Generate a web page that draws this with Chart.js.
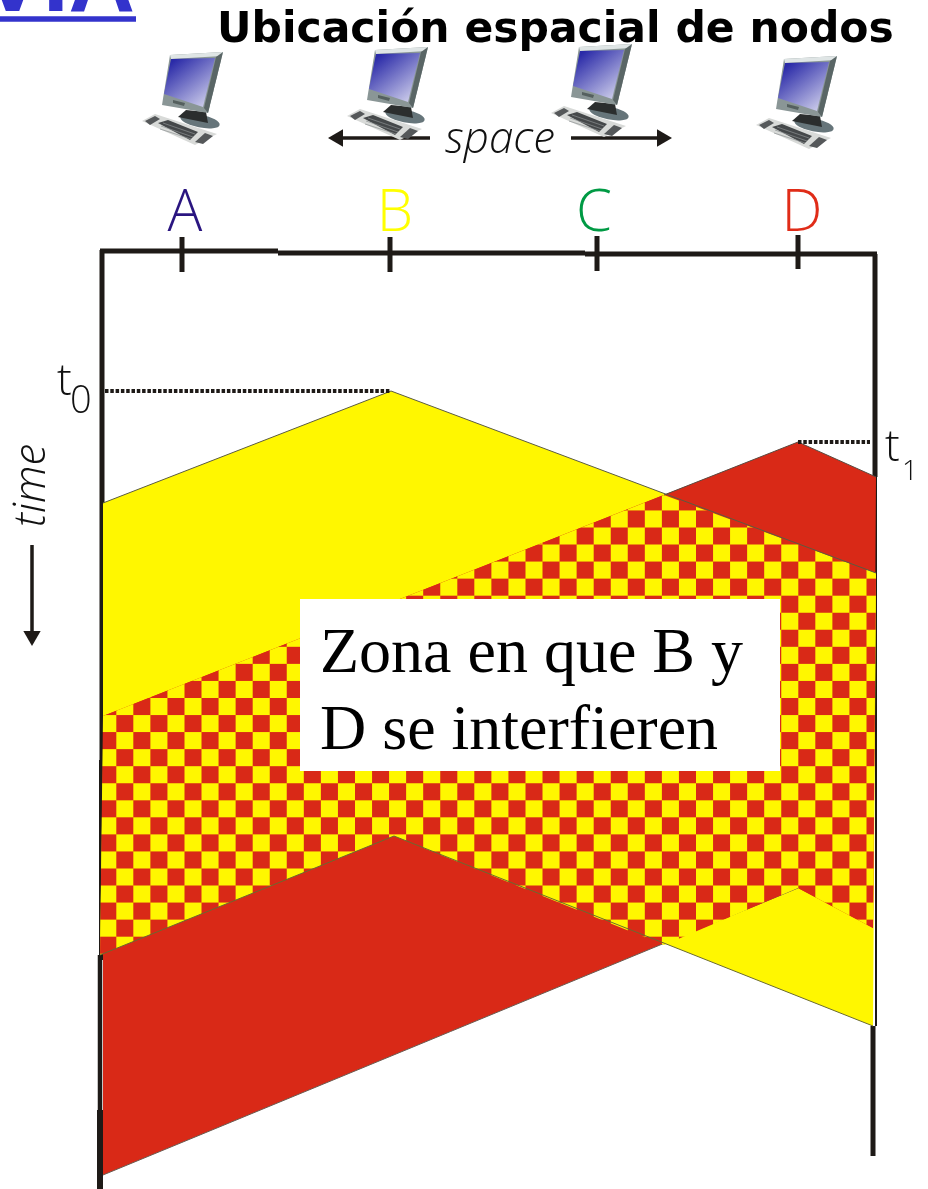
<!DOCTYPE html>
<html>
<head>
<meta charset="utf-8">
<title>Ubicación espacial de nodos</title>
<script src="https://cdn.jsdelivr.net/npm/chart.js@4/dist/chart.umd.min.js"></script>
<style>
  html, body { margin: 0; padding: 0; background: #fff; overflow: hidden; }
  canvas { display: block; }
</style>
</head>
<body>
<canvas id="diagram" width="928" height="1189"></canvas>
<script>
// Space / time diagram: x is space, y is time (downwards)
const nodeLabels = ['A', 'B', 'C', 'D'];
const nodeSpace = [182, 390, 597, 798];
const tickStart = [237, 237, 236, 235];
const tickEnd = [272, 272, 271, 269];
const computerSpace = [182, 387, 591, 796];
const computerTime = [100, 95, 92, 104];

// Signal sent by B
const yellowSpace = [103, 391, 876, 873, 394, 100, 103, 103];
const yellowTime = [503, 391, 573, 1026, 836, 955, 760, 503];
// Signal sent by D
const redSpace = [103, 798, 876, 873, 798, 103, 103];
const redTime = [716, 442, 477, 928, 888, 1175, 716];
// Where both signals overlap
const overlapSpace = [103, 664, 876, 873, 798, 664, 394, 100, 103];
const overlapTime = [716, 495, 573, 928, 888, 945, 836, 955, 716];

const t0Space = [105, 391];
const t0Time = [391, 391];
const t1Space = [798, 870];
const t1Time = [442, 442];

const INK = '#1e1a17';
const YELLOW = '#fff700';
const RED = '#d92917';

function points(xs, ys) {
    return xs.map((x, i) => ({ x: x, y: ys[i] }));
}

function stroke(xs, ys, width, color, extra) {
    return Object.assign({
        data: points(xs, ys),
        showLine: true,
        borderColor: color || INK,
        borderWidth: width,
        pointRadius: 0,
        fill: false,
        tension: 0
    }, extra || {});
}

function area(xs, ys, fillStyle) {
    return {
        data: points(xs, ys),
        showLine: true,
        borderWidth: 0,
        borderColor: 'transparent',
        backgroundColor: fillStyle,
        pointRadius: 0,
        fill: 'shape',
        tension: 0
    };
}

// Arrow: a line with a triangle on its last point
function arrow(xs, ys, rotation) {
    return stroke(xs, ys, 3.5, INK, {
        pointStyle: 'triangle',
        pointRadius: [0, 10],
        pointRotation: rotation,
        pointBackgroundColor: INK,
        pointBorderWidth: 0
    });
}

function checkerPattern() {
    const cell = 17;
    const tile = document.createElement('canvas');
    tile.width = cell * 2;
    tile.height = cell * 2;
    const c = tile.getContext('2d');
    c.fillStyle = YELLOW;
    c.fillRect(0, 0, cell * 2, cell * 2);
    c.fillStyle = RED;
    c.fillRect(0, 0, cell, cell);
    c.fillRect(cell, cell, cell, cell);
    const ctx = document.getElementById('diagram').getContext('2d');
    const pattern = ctx.createPattern(tile, 'repeat');
    // line the squares up with the reference grid
    const scale = 17.05 / 17;
    pattern.setTransform(new DOMMatrix([scale, 0, 0, scale, 31, 15.95]));
    return pattern;
}

function quad(c, pts, fill) {
    c.beginPath();
    pts.forEach((p, i) => i ? c.lineTo(p[0], p[1]) : c.moveTo(p[0], p[1]));
    c.closePath();
    c.fillStyle = fill;
    c.fill();
}

// Small desktop computer used as point style
function computerIcon() {
    const icon = document.createElement('canvas');
    icon.width = 84;
    icon.height = 100;
    const c = icon.getContext('2d');
    // stand
    c.fillStyle = '#66757a';
    c.beginPath();
    c.ellipse(60, 71, 20, 6.5, 0.2, 0, Math.PI * 2);
    c.fill();
    quad(c, [[46, 60], [66, 62], [68, 73], [38, 67]], '#2b2e2e');
    // monitor
    quad(c, [[30, 5], [83, 2], [68, 63], [22, 55]], '#8a9696');
    quad(c, [[30, 5], [83, 2], [82, 6], [31, 9]], '#dfe5e5');
    quad(c, [[76, 7], [83, 2], [68, 63], [64, 58]], '#5a6666');
    const screen = c.createLinearGradient(32, 12, 68, 58);
    screen.addColorStop(0, '#2a2aa8');
    screen.addColorStop(1, '#d5d5ee');
    quad(c, [[31, 9], [75, 8], [63, 57], [24, 44]], screen);
    quad(c, [[33, 50], [45, 53], [44, 56], [33, 53]], '#55605f');
    // keyboard
    quad(c, [[2, 71], [15, 64], [77, 84], [55, 95]], '#d8dad8');
    quad(c, [[18, 73], [28, 70], [58, 82], [50, 90]], '#45484a');
    quad(c, [[5, 71], [15, 66], [20, 69], [10, 75]], '#55585a');
    quad(c, [[55, 92], [65, 83], [73, 86], [63, 94]], '#55585a');
    c.strokeStyle = '#8d9092';
    c.lineWidth = 0.7;
    [[23, 73, 55, 84], [21, 76, 53, 87], [20, 79, 51, 89]].forEach(r => {
        c.beginPath();
        c.moveTo(r[0], r[1]);
        c.lineTo(r[2], r[3]);
        c.stroke();
    });
    return icon;
}

const computerImage = computerIcon();

// Text labels, placed through the chart scales
const textPlugin = {
    id: 'diagramText',
    afterDatasetsDraw(chart) {
        const ctx = chart.ctx;
        const sx = chart.scales.x;
        const sy = chart.scales.y;

        function text(str, x, y, font, color, align) {
            ctx.font = font;
            ctx.fillStyle = color || '#111';
            ctx.textAlign = align || 'left';
            ctx.textBaseline = 'alphabetic';
            ctx.fillText(str, sx.getPixelForValue(x), sy.getPixelForValue(y));
        }

        ctx.save();
        text('VIA', 135, 11, 'bold 92px "Liberation Sans"', '#3333cc', 'right');
        text('Ubicación espacial de nodos', 217, 42, 'bold 42.5px "DejaVu Sans"', '#000');
        text('space', 445, 153, 'italic 300 44px "Open Sans"', '#111');

        const nodeColors = ['#2a1580', '#ffff00', '#009a44', '#e02c18'];
        const nodeOffset = [3, 5, -3, 4];
        nodeLabels.forEach((label, i) => {
            text(label, nodeSpace[i] + nodeOffset[i], 231, '300 58px "Open Sans"', nodeColors[i], 'center');
        });

        text('t', 57, 395, '300 44px "Open Sans"', '#111');
        text('0', 70, 413, '300 38px "Open Sans"', '#111');
        text('t', 885, 461, '300 44px "Open Sans"', '#111');
        text('1', 902, 480, '300 28px "Open Sans"', '#111');

        text('Zona en que B y', 320, 672, '64px "Liberation Serif"', '#000');
        text('D se interfieren', 320, 749, '64px "Liberation Serif"', '#000');

        ctx.translate(sx.getPixelForValue(45), sy.getPixelForValue(527));
        ctx.rotate(-Math.PI / 2);
        ctx.font = 'italic 300 44px "Open Sans"';
        ctx.fillStyle = '#111';
        ctx.textAlign = 'left';
        ctx.fillText('time', 0, 0);
        ctx.restore();
    }
};

// Listed from the bottom layer to the top one
const layers = [
    // title underline
    stroke([0, 136], [19, 19], 5.5, '#3333cc'),
    // frame
    stroke([102, 102], [250, 760], 5),
    stroke([101, 101], [760, 960], 4),
    stroke([100, 100], [955, 1110], 4.5),
    stroke([100, 100], [1110, 1189], 6),
    stroke([100, 278], [251, 251], 5),
    stroke([278, 585], [253, 253], 5),
    stroke([585, 877], [254, 254], 5),
    stroke([875, 875], [254, 477], 5),
    stroke([876, 876], [477, 1026], 2),
    stroke([873, 873], [1026, 1156], 5),
    // signals
    area(yellowSpace, yellowTime, YELLOW),
    area(redSpace, redTime, RED),
    stroke(redSpace.slice(1, 3), redTime.slice(1, 3), 1, '#5b4a40'),
    stroke(redSpace.slice(4, 6), redTime.slice(4, 6), 1, '#6a5a50'),
    area(overlapSpace, overlapTime, checkerPattern()),
    stroke([664, 798], [495, 442], 1, '#5b4a40'),
    stroke(yellowSpace.slice(0, 3), yellowTime.slice(0, 3), 1, '#5b5b40'),
    stroke(yellowSpace.slice(3, 6), yellowTime.slice(3, 6), 1, '#6a6a30'),
    // t0 and t1 markers
    stroke(t0Space, t0Time, 4, INK, { borderDash: [3.5, 1.8] }),
    stroke(t1Space, t1Time, 4, INK, { borderDash: [3.5, 1.8] }),
    // ticks
    ...nodeSpace.map((x, i) => stroke([x, x], [tickStart[i], tickEnd[i]], 5)),
    // white note box
    area([300, 780, 780, 300, 300], [599, 599, 771, 771, 599], '#ffffff'),
    // space and time arrows
    arrow([430, 338], [138, 138], -90),
    arrow([571, 662], [138, 138], 90),
    arrow([32, 32], [545, 636], 180),
    // computers
    {
        data: points(computerSpace, computerTime),
        showLine: false,
        pointStyle: computerImage,
        pointRadius: 20
    }
];

new Chart(document.getElementById('diagram'), {
    type: 'scatter',
    data: { datasets: layers.reverse() },
    options: {
        responsive: false,
        animation: false,
        devicePixelRatio: 1,
        layout: { padding: 0, autoPadding: false },
        plugins: {
            legend: { display: false },
            tooltip: { enabled: false }
        },
        scales: {
            x: { type: 'linear', display: false, min: 0, max: 928 },
            y: { type: 'linear', display: false, reverse: true, min: 0, max: 1189 }
        }
    },
    plugins: [textPlugin]
});
</script>
</body>
</html>
